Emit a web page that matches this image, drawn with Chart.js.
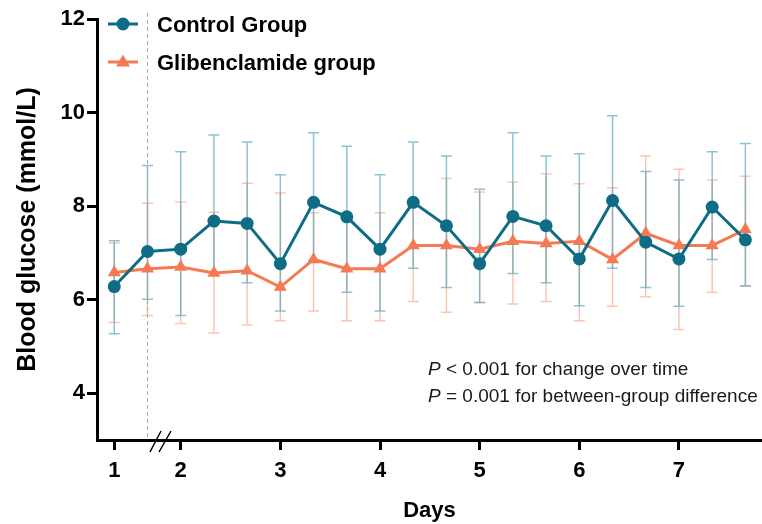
<!DOCTYPE html>
<html><head><meta charset="utf-8">
<script src="https://cdn.jsdelivr.net/npm/chart.js@4.4.1/dist/chart.umd.min.js"></script>
<style>html,body{margin:0;padding:0;background:#fff}#wrap{width:762px;height:524px}</style>
</head><body><div id="wrap"><canvas id="c" width="762" height="524"></canvas></div>
<script>
// ---- data ----
const sampleIndex = [0,1,2,3,4,5,6,7,8,9,10,11,12,13,14,15,16,17,18,19];
const dayTickIndex = [0,2,5,8,11,14,17];
const dayLabels = ['1','2','3','4','5','6','7'];
const yTicks = [4,6,8,10,12];
const seriesNames = ['Control Group','Glibenclamide group'];

const controlMean  = [6.28,7.03,7.08,7.68,7.63,6.77,8.08,7.77,7.08,8.08,7.58,6.77,7.78,7.58,6.87,8.12,7.23,6.87,7.98,7.28];
const controlUpper = [7.26,8.87,9.16,9.52,9.37,8.67,9.57,9.28,8.67,9.37,9.07,8.36,9.57,9.07,9.12,9.93,8.74,8.56,9.16,9.34];
const controlLower = [5.27,6.01,5.66,6.55,6.36,5.76,6.85,6.16,5.76,6.67,6.26,5.94,6.56,6.36,5.87,6.67,6.26,5.86,6.86,6.29];

const glibMean  = [6.58,6.66,6.70,6.57,6.62,6.27,6.86,6.66,6.66,7.16,7.16,7.08,7.25,7.2,7.25,6.86,7.42,7.16,7.16,7.5];
const glibUpper = [7.21,8.06,8.09,7.87,8.49,8.28,7.86,7.75,7.86,8.05,8.59,8.30,8.51,8.69,8.48,8.39,9.07,8.79,8.56,8.64];
const glibLower = [5.51,5.66,5.49,5.29,5.46,5.55,5.76,5.55,5.55,5.96,5.73,5.94,5.91,5.96,5.55,5.86,6.06,5.36,6.16,6.29];

// ---- styles ----
const FONT = '"Liberation Sans", Arial, sans-serif';
const C_CTRL = '#0e6c85';
const C_GLIB = '#f47a54';
const C_CTRL_ERR = 'rgba(80,165,190,0.65)';
const C_GLIB_ERR = 'rgba(248,150,120,0.55)';

const toXY = (arr) => arr.map((v,i) => ({x: sampleIndex[i], y: v}));

const errorBars = {
  id: 'errorBars',
  beforeDatasetsDraw(chart) {
    const {ctx, scales:{x, y}, chartArea} = chart;
    const draw = (upper, lower, color) => {
      ctx.save();
      ctx.strokeStyle = color;
      ctx.lineWidth = 1.5;
      for (let i = 0; i < sampleIndex.length; i++) {
        const px = x.getPixelForValue(sampleIndex[i]);
        const pu = y.getPixelForValue(upper[i]);
        const pl = y.getPixelForValue(lower[i]);
        ctx.beginPath();
        ctx.moveTo(px, pu); ctx.lineTo(px, pl);
        ctx.moveTo(px-5.5, pu); ctx.lineTo(px+5.5, pu);
        ctx.moveTo(px-5.5, pl); ctx.lineTo(px+5.5, pl);
        ctx.stroke();
      }
      ctx.restore();
    };
    draw(glibUpper, glibLower, C_GLIB_ERR);
    draw(controlUpper, controlLower, C_CTRL_ERR);
    // dashed separator
    ctx.save();
    ctx.strokeStyle = '#a8a8a8';
    ctx.lineWidth = 1;
    ctx.setLineDash([4,3]);
    const dx = Math.round(x.getPixelForValue(sampleIndex[1])) + 0.5;
    ctx.beginPath(); ctx.moveTo(dx, 13); ctx.lineTo(dx, chartArea.bottom); ctx.stroke();
    ctx.restore();
  },
  afterDraw(chart) {
    const {ctx} = chart;
    ctx.save();
    // axis break marks
    ctx.strokeStyle = '#000';
    ctx.lineWidth = 1.5;
    ctx.beginPath();
    ctx.moveTo(150, 452); ctx.lineTo(161, 431);
    ctx.moveTo(159, 452); ctx.lineTo(171, 431);
    ctx.stroke();
    // legend
    ctx.lineWidth = 3;
    ctx.strokeStyle = C_CTRL;
    ctx.beginPath(); ctx.moveTo(108, 24); ctx.lineTo(138, 24); ctx.stroke();
    ctx.fillStyle = C_CTRL;
    ctx.beginPath(); ctx.arc(123, 24, 6.5, 0, Math.PI*2); ctx.fill();
    ctx.strokeStyle = C_GLIB;
    ctx.beginPath(); ctx.moveTo(108, 62); ctx.lineTo(138, 62); ctx.stroke();
    ctx.fillStyle = C_GLIB;
    ctx.beginPath(); ctx.moveTo(123, 54.5); ctx.lineTo(130, 66.5); ctx.lineTo(116, 66.5); ctx.closePath(); ctx.fill();
    ctx.fillStyle = '#000';
    ctx.font = 'bold 22px ' + FONT;
    ctx.textBaseline = 'alphabetic';
    ctx.textAlign = 'left';
    ctx.fillText(seriesNames[0], 157, 32);
    ctx.fillText(seriesNames[1], 157, 70);
    // annotation
    const lines = [[' < 0.001 for change over time', 375], [' = 0.001 for between-group difference', 401.5]];
    ctx.fillStyle = '#1a1a1a';
    for (const [t, yy] of lines) {
      ctx.font = 'italic 19px ' + FONT;
      ctx.fillText('P', 428, yy);
      const w = ctx.measureText('P').width;
      ctx.font = '19px ' + FONT;
      ctx.fillText(t, 428 + w, yy);
    }
    ctx.restore();
  }
};

const axisCommon = {
  grid: {drawOnChartArea:false, drawTicks:true, tickLength:10, tickWidth:3, tickColor:'#000', color:'#000'},
  border: {display:true, width:3, color:'#000'}
};

new Chart(document.getElementById('c'), {
  type: 'line',
  data: {
    datasets: [
      {label: seriesNames[0], data: toXY(controlMean), borderColor: C_CTRL, backgroundColor: C_CTRL,
       borderWidth: 3, pointStyle: 'circle', pointRadius: 6.5, pointBorderWidth: 0, tension: 0},
      {label: seriesNames[1], data: toXY(glibMean), borderColor: C_GLIB, backgroundColor: C_GLIB,
       borderWidth: 3, pointStyle: 'triangle', pointRadius: 7.5, pointBorderWidth: 0, tension: 0}
    ]
  },
  options: {
    responsive: false, animation: false, devicePixelRatio: 1,
    layout: {autoPadding: false, padding: {top: 19, right: 0, left: 0, bottom: 0}},
    plugins: {legend: {display: false}, tooltip: {enabled: false}},
    scales: {
      x: {
        type: 'linear', min: -0.52, max: 19.5,
        afterBuildTicks: s => { s.ticks = dayTickIndex.map(v => ({value: v})); },
        afterFit: s => { s.height = 84; s.paddingLeft = 0; s.paddingRight = 0; },
        ticks: {autoSkip: false, maxRotation: 0, padding: 8, color: '#000',
          font: {family: FONT, size: 22, weight: 'bold'},
          callback: v => { const i = dayTickIndex.indexOf(v); return i >= 0 ? dayLabels[i] : ''; }},
        ...axisCommon,
        title: {display: true, text: 'Days', color: '#000', font: {family: FONT, size: 22, weight: 'bold'}, padding: {top: 0, bottom: 0}}
      },
      y: {
        min: 3, max: 12,
        afterBuildTicks: s => { s.ticks = yTicks.map(v => ({value: v})); },
        afterFit: s => { s.width = 97; s.paddingTop = 0; s.paddingBottom = 0; },
        ticks: {padding: 2, color: '#000', font: {family: FONT, size: 22, weight: 'bold'}},
        ...axisCommon,
        title: {display: true, text: 'Blood glucose (mmol/L)', color: '#000', font: {family: FONT, size: 25, weight: 'bold'}, padding: {top: 13, bottom: 0}}
      }
    }
  },
  plugins: [errorBars]
});
</script></body></html>
